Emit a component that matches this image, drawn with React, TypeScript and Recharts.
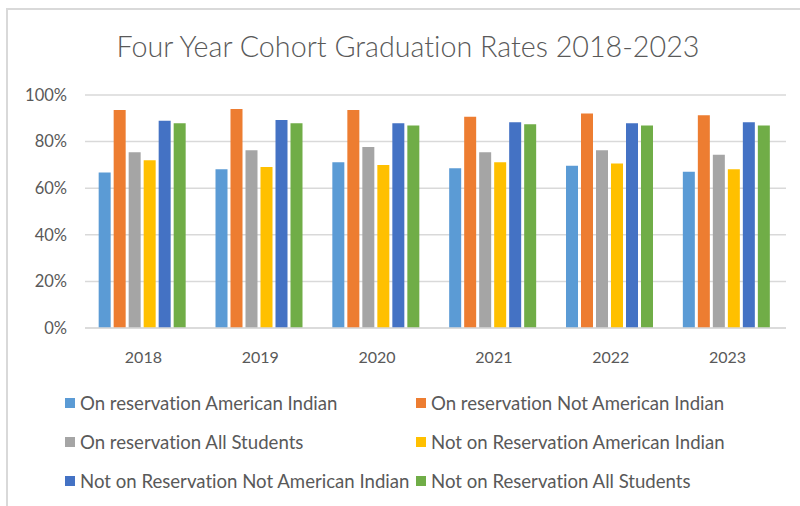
import React from 'react';
import { BarChart, Bar, XAxis, YAxis, CartesianGrid, Legend } from 'recharts';

const years = ['2018', '2019', '2020', '2021', '2022', '2023'];
const onResAI = [66.7, 68.1, 71.1, 68.6, 69.6, 67.1];
const onResNotAI = [93.6, 94.0, 93.6, 90.7, 92.1, 91.3];
const onResAll = [75.4, 76.3, 77.7, 75.4, 76.3, 74.4];
const notResAI = [72.0, 69.1, 70.0, 71.1, 70.6, 68.1];
const notResNotAI = [88.9, 89.3, 87.9, 88.3, 87.9, 88.3];
const notResAll = [87.9, 87.9, 86.9, 87.4, 86.9, 86.9];
const yTicks = [0, 20, 40, 60, 80, 100];

const series = [
  { key: 'onResAI', name: 'On reservation American Indian', values: onResAI, color: '#5B9BD5' },
  { key: 'onResNotAI', name: 'On reservation Not American Indian', values: onResNotAI, color: '#ED7D31' },
  { key: 'onResAll', name: 'On reservation All Students', values: onResAll, color: '#A5A5A5' },
  { key: 'notResAI', name: 'Not on Reservation American Indian', values: notResAI, color: '#FFC000' },
  { key: 'notResNotAI', name: 'Not on Reservation Not American Indian', values: notResNotAI, color: '#4472C4' },
  { key: 'notResAll', name: 'Not on Reservation All Students', values: notResAll, color: '#70AD47' },
];

const data = years.map((y, i) => {
  const row: Record<string, string | number> = { year: y };
  series.forEach((s) => {
    row[s.key] = s.values[i];
  });
  return row;
});

const FONT = 'Lato, "Open Sans", sans-serif';
const TXT = '#595959';
const noLig = { fontVariantLigatures: 'none' as const, fontFeatureSettings: '"liga" 0, "clig" 0' };

const LegendContent = () => {
  const colX = [65, 416];
  const rowY = [18, 57, 96];
  return (
    <div style={{ position: 'relative', width: 800, height: 115, fontFamily: FONT, ...noLig }}>
      {series.map((s, i) => {
        const col = i % 2;
        const row = Math.floor(i / 2);
        return (
          <div
            key={s.key}
            style={{
              position: 'absolute',
              left: colX[col],
              top: rowY[row] - 12,
              height: 24,
              display: 'flex',
              alignItems: 'center',
              whiteSpace: 'nowrap',
            }}
          >
            <span style={{ display: 'inline-block', width: 10, height: 10, background: s.color, marginRight: 5 }} />
            <span style={{ fontSize: 18.6, color: TXT, lineHeight: '24px' }}>{s.name}</span>
          </div>
        );
      })}
    </div>
  );
};

export default function App() {
  return (
    <div style={{ position: 'absolute', left: 0, top: 0, width: 800, height: 506, background: '#fff', overflow: 'hidden' }}>
      <svg width={800} height={506} style={{ position: 'absolute', left: 0, top: 0 }}>
        <line x1={7} y1={9} x2={7} y2={506} stroke="#d9d9d9" strokeWidth={2} />
        <line x1={6} y1={9} x2={800} y2={9} stroke="#d9d9d9" strokeWidth={2} />
        <text x={408} y={57} textAnchor="middle" fontFamily={FONT} fontWeight={300} fontSize={28.7} fill={TXT} style={noLig}>
          Four Year Cohort Graduation Rates 2018-2023
        </text>
      </svg>
      <div style={{ position: 'absolute', left: 0, top: 0 }}>
        <BarChart
          width={800}
          height={506}
          data={data}
          margin={{ top: 95, right: 14, left: 25, bottom: 138 }}
          barCategoryGap="11.7%"
          barGap={3}
        >
          <CartesianGrid vertical={false} stroke="#d9d9d9" strokeWidth={1.5} />
          <XAxis
            dataKey="year"
            axisLine={{ stroke: '#d9d9d9', strokeWidth: 1.5 }}
            tickLine={false}
            height={40}
            tickMargin={18}
            tick={{ fill: TXT, fontSize: 16, fontFamily: FONT }}
          />
          <YAxis
            domain={[0, 100]}
            ticks={yTicks}
            width={60}
            axisLine={false}
            tickLine={false}
            tickMargin={12}
            tickFormatter={(v: number) => `${v}%`}
            tick={{ fill: TXT, fontSize: 16.5, fontFamily: FONT }}
          />
          <Legend
            layout="horizontal"
            verticalAlign="middle"
            align="center"
            content={() => <LegendContent />}
            wrapperStyle={{ top: 385, left: 0, width: 800, height: 115 }}
          />
          {series.map((s) => (
            <Bar key={s.key} dataKey={s.key} name={s.name} fill={s.color} isAnimationActive={false} />
          ))}
        </BarChart>
      </div>
    </div>
  );
}
